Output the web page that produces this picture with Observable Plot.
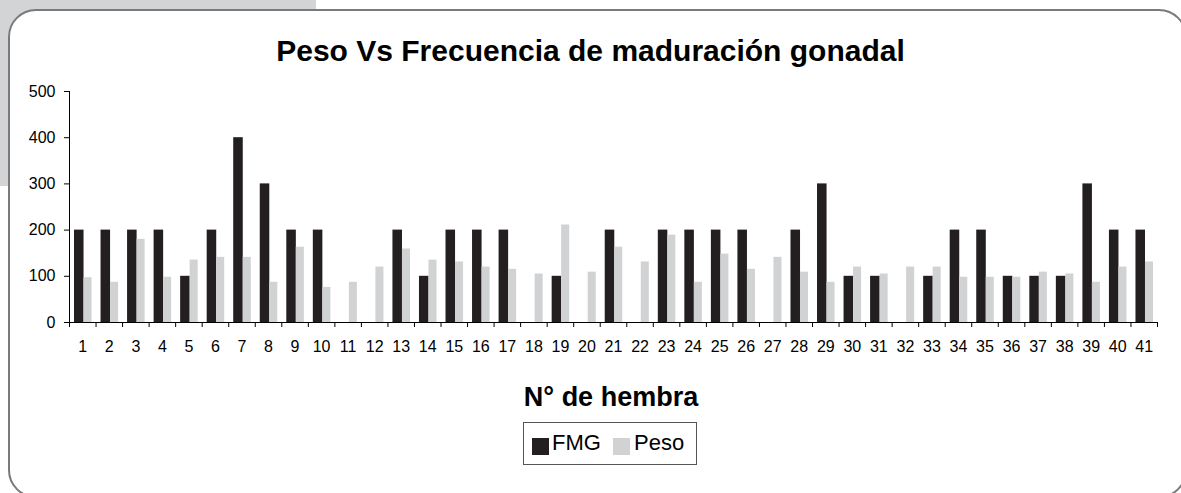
<!DOCTYPE html>
<html>
<head>
<meta charset="utf-8">
<script src="https://cdn.jsdelivr.net/npm/d3@7"></script>
<script src="https://cdn.jsdelivr.net/npm/@observablehq/plot@0.6"></script>
<style>
  html, body { margin: 0; padding: 0; background: #fff; }
  #page { position: relative; width: 1181px; height: 493px; overflow: hidden; background: #fff; font-family: "Liberation Sans", Arial, sans-serif; }
  #graybg { position: absolute; left: 0; top: 0; width: 316px; height: 186px; background: #d3d4d6; }
  #frame { position: absolute; left: 8px; top: 9px; width: 1175px; height: 485px; border: 2px solid #7a7a7a; border-radius: 28px; background: #fff; }
  #title { position: absolute; left: 0; width: 1181px; top: 33px; text-align: center; font-weight: bold; font-size: 30px; line-height: 36px; color: #000; padding-left: 0px; }
  #xlabel { position: absolute; left: 0; width: 1222px; top: 380px; text-align: center; font-weight: bold; font-size: 27px; line-height: 34px; color: #000; }
  #legend { position: absolute; left: 523px; top: 422px; width: 172px; height: 41px; border: 1px solid #555; background: #fff; }
  .sw { position: absolute; width: 17px; height: 17px; top: 15px; }
  .lt { position: absolute; top: 7px; font-size: 22px; line-height: 26px; color: #000; }
  #chart { position: absolute; left: 0; top: 80px; }
</style>
</head>
<body>
<div id="page">
  <div id="graybg"></div>
  <div id="frame"></div>
  <div id="title">Peso Vs Frecuencia de maduración gonadal</div>
  <div id="chart"></div>
  <div id="xlabel">N° de hembra</div>
  <div id="legend"></div>
</div>
<script>
// Data
const hembras = [1,2,3,4,5,6,7,8,9,10,11,12,13,14,15,16,17,18,19,20,21,22,23,24,25,26,27,28,29,30,31,32,33,34,35,36,37,38,39,40,41];
const fmg  = [200,200,200,200,100,200,400,300,200,200, 0,0,200,100,200,200,200,0,100,0, 200,0,200,200,200,200,0,200,300,100, 100,0,100,200,200,100,100,100,300,200,200];
const peso = [97,87,180,98,135,141,141,87,163,76, 87,120,159,135,131,120,115,105,211,109, 163,131,189,87,148,115,141,109,87,120, 105,120,120,98,98,98,109,105,87,120,131];
const yTicks = [0,100,200,300,400,500];
const seriesNames = ["FMG", "Peso"];
const seriesColors = ["#231f20", "#d1d2d4"];

const data = hembras.map((h, i) => ({h, fmg: fmg[i], peso: peso[i]}));
const boundaries = hembras.map(h => h - 0.5).concat([hembras[hembras.length - 1] + 0.5]);

const chart = Plot.plot({
  width: 1181,
  height: 280,
  marginLeft: 69,
  marginRight: 24,
  marginTop: 11,
  marginBottom: 38,
  style: {fontFamily: "'Liberation Sans', Arial, sans-serif", fontSize: "16px", color: "#000", background: "transparent", overflow: "visible"},
  x: {type: "linear", domain: [0.5, 41.5], label: null},
  y: {domain: [0, 500], label: null},
  marks: [
    Plot.rectY(data, {x1: d => d.h - 0.5, x2: d => d.h + 0.5, y: "fmg", fill: seriesColors[0], insetLeft: 5, insetRight: 12}),
    Plot.rectY(data, {x1: d => d.h - 0.5, x2: d => d.h + 0.5, y: "peso", fill: seriesColors[1], insetLeft: 14.5, insetRight: 4}),
    Plot.ruleY([0], {stroke: "#000"}),
    Plot.ruleX([0.5], {y1: 0, y2: 500, stroke: "#000"}),
    Plot.axisY({ticks: yTicks, tickSize: 5, tickPadding: 9, tickFormat: d => String(d), label: null, fontSize: 16}),
    Plot.axisX({ticks: boundaries, tickSize: 5, tickFormat: () => "", label: null}),
    Plot.axisX({ticks: hembras, tickSize: 0, tickPadding: 18, tickFormat: d => String(d), label: null, fontSize: 16})
  ]
});
document.getElementById("chart").appendChild(chart);

// Legend
const legend = document.getElementById("legend");
const pos = [{sw: 8, tx: 28}, {sw: 89, tx: 110}];
seriesNames.forEach((name, i) => {
  const s = document.createElement("div");
  s.className = "sw";
  s.style.left = pos[i].sw + "px";
  s.style.background = seriesColors[i];
  legend.appendChild(s);
  const t = document.createElement("div");
  t.className = "lt";
  t.style.left = pos[i].tx + "px";
  t.textContent = name;
  legend.appendChild(t);
});
</script>
</body>
</html>
